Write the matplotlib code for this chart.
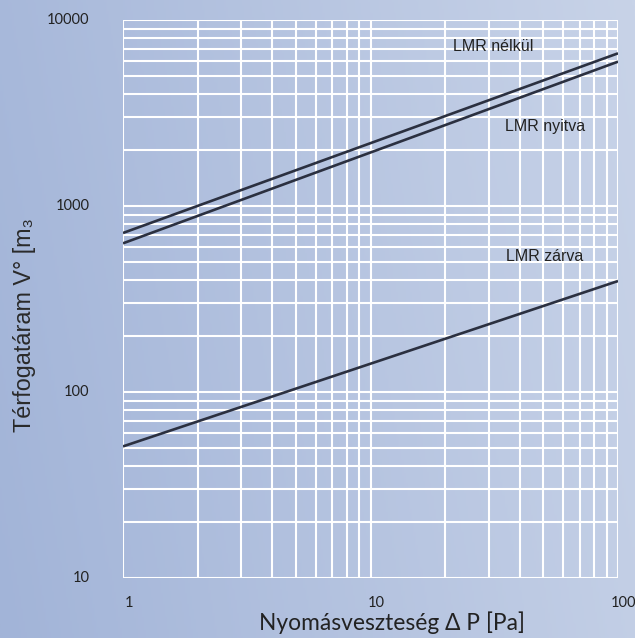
import numpy as np
import matplotlib
matplotlib.use("Agg")
import matplotlib.pyplot as plt
from matplotlib.colors import LinearSegmentedColormap
import matplotlib.transforms as mtransforms
from matplotlib.ticker import LogLocator, NullFormatter, FixedLocator, FixedFormatter

# ---- data ----
dp = [1, 100]
lmr_nelkul = [716, 6620]
lmr_nyitva = [630, 5970]
lmr_zarva = [51, 395]
x_ticks = [1, 10, 100]
x_tick_labels = ["1", "10", "100"]
y_ticks = [10, 100, 1000, 10000]
y_tick_labels = ["10", "100", "1000", "10000"]
labels = ["LMR nélkül", "LMR nyitva", "LMR zárva"]
label_pos = [(31.3, 7240), (50.7, 2660), (50.7, 538)]

W, H = 635, 638
fig = plt.figure(figsize=(W / 100, H / 100), dpi=100)

# background gradient
bg = fig.add_axes([0, 0, 1, 1], zorder=-10)
cmap = LinearSegmentedColormap.from_list("bg", ["#a2b4d8", "#c8d3e8"])
xx = np.linspace(0, 1, 300)
yy = np.linspace(0, 1, 300)
X, Y = np.meshgrid(xx, yy)
grad = 0.85 * X + 0.15 * (1 - Y)
bg.imshow(grad, cmap=cmap, aspect="auto", extent=[0, 1, 0, 1], origin="upper")
bg.axis("off")

left, right = 123 / W, 618 / W
top, bottom = 1 - 20 / H, 1 - 578 / H
ax = fig.add_axes([left, bottom, right - left, top - bottom])
ax.set_facecolor("none")
ax.set_xscale("log")
ax.set_yscale("log")
ax.set_xlim(1, 100)
ax.set_ylim(10, 10000)

for s in ax.spines.values():
    s.set_visible(False)

ax.xaxis.set_major_locator(FixedLocator(x_ticks))
ax.xaxis.set_major_formatter(FixedFormatter(x_tick_labels))
ax.yaxis.set_major_locator(FixedLocator(y_ticks))
ax.yaxis.set_major_formatter(FixedFormatter(y_tick_labels))
ax.xaxis.set_minor_locator(LogLocator(base=10, subs=np.arange(2, 10), numticks=20))
ax.yaxis.set_minor_locator(LogLocator(base=10, subs=np.arange(2, 10), numticks=20))
ax.xaxis.set_minor_formatter(NullFormatter())
ax.yaxis.set_minor_formatter(NullFormatter())

ax.grid(True, which="both", color="white", linewidth=1.5)
ax.tick_params(which="both", length=0)
ax.tick_params(axis="x", pad=13, labelsize=10.5, labelcolor="#222222")
ax.tick_params(axis="y", pad=24, labelsize=10.5, labelcolor="#222222")
for lbl in ax.get_xticklabels() + ax.get_yticklabels():
    lbl.set_fontfamily(["Lato", "DejaVu Sans"])

# shift tick labels slightly
xoff = mtransforms.ScaledTranslation(6 / 100, 0, fig.dpi_scale_trans)
for lbl in ax.get_xticklabels():
    lbl.set_transform(lbl.get_transform() + xoff)
yoff = mtransforms.ScaledTranslation(0, 2 / 100, fig.dpi_scale_trans)
for lbl in ax.get_yticklabels():
    lbl.set_transform(lbl.get_transform() + yoff)

line_kw = dict(color="#2b3040", linewidth=1.9, solid_capstyle="butt", zorder=3)
ax.plot(dp, lmr_nelkul, **line_kw)
ax.plot(dp, lmr_nyitva, **line_kw)
ax.plot(dp, lmr_zarva, **line_kw)

for t, (px, py) in zip(labels, label_pos):
    ax.text(px, py, t, fontsize=11.5, color="#222222", ha="center", va="center",
            family=["Liberation Sans", "DejaVu Sans"], zorder=4)

fig.text(392 / W, 1 - 623 / H, "Nyomásveszteség Δ P [Pa]", fontsize=16.4,
         color="#222222", ha="center", va="center", family=["Lato", "DejaVu Sans"])
fig.text(25 / W, 1 - 325 / H, "Térfogatáram V° [m₃", fontsize=16.8, rotation=90,
         color="#2a2a2a", ha="center", va="center",
         family=["Liberation Sans", "DejaVu Sans"])

fig.savefig("out.png", dpi=100)
